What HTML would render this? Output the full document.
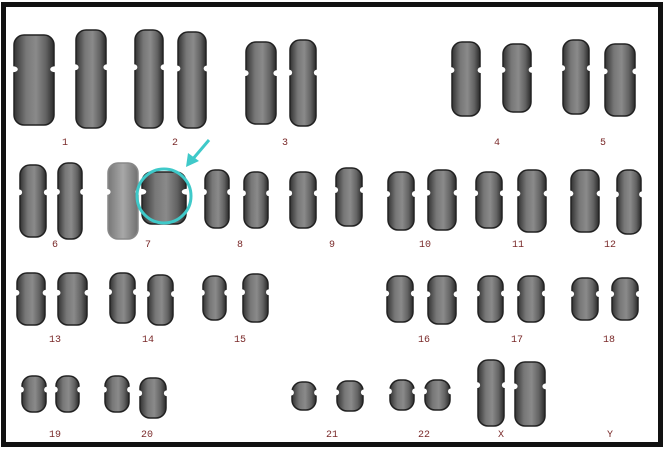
<!DOCTYPE html>
<html><head><meta charset="utf-8"><style>
html,body{margin:0;padding:0;background:#fff;}
svg{display:block;}
.lbl{font-family:"Liberation Mono",monospace;font-size:10px;fill:#7a2a2a;text-anchor:middle;}
</style></head><body>
<svg width="666" height="449" viewBox="0 0 666 449">
<defs>
<linearGradient id="g" x1="0" x2="1" y1="0" y2="0">
<stop offset="0" stop-color="#333"/><stop offset="0.3" stop-color="#777"/><stop offset="0.55" stop-color="#8a8a8a"/><stop offset="0.8" stop-color="#626262"/><stop offset="1" stop-color="#2a2a2a"/>
</linearGradient>
<linearGradient id="gl" x1="0" x2="1"><stop offset="0" stop-color="#777"/><stop offset="0.5" stop-color="#a8a8a8"/><stop offset="1" stop-color="#707070"/></linearGradient>
</defs>
<rect x="0" y="0" width="666" height="449" fill="#fff"/>
<rect x="3.5" y="4.5" width="657" height="440" fill="none" stroke="#111" stroke-width="5"/>
<g id="chroms"></g>
<g id="labels"></g>
<circle cx="164" cy="196" r="27" fill="none" stroke="#3fc9c9" stroke-width="3"/>
<g>
<line x1="209" y1="140" x2="192" y2="160" stroke="#3fc9c9" stroke-width="3"/>
<polygon points="186,167 188,153 199,161" fill="#3fc9c9"/>
</g>
</svg>
<script>
const pairLabels=["1","2","3","4","5","6","7","8","9","10","11","12","13","14","15","16","17","18","19","20","21","22","X","Y"];
const labelX=[65,175,285,497,603,55,148,240,332,425,518,610,55,148,240,424,517,609,55,147,332,424,501,610];
const labelY=[145,145,145,145,145,247,247,247,247,247,247,247,342,342,342,342,342,342,437,437,437,437,437,437];
// chromosome boxes: x, y, w, h
const chromBoxes=[
[14,35,40,90],[76,30,30,98],[135,30,28,98],[178,32,28,96],[246,42,30,82],[290,40,26,86],
[452,42,28,74],[503,44,28,68],[563,40,26,74],[605,44,30,72],
[20,165,26,72],[58,163,24,76],[108,163,30,76],[142,172,44,52],[205,170,24,58],[244,172,24,56],
[290,172,26,56],[336,168,26,58],[388,172,26,58],[428,170,28,60],[476,172,26,56],[518,170,28,62],
[571,170,28,62],[617,170,24,64],
[17,273,28,52],[58,273,29,52],[110,273,25,50],[148,275,25,50],[203,276,23,44],[243,274,25,48],
[387,276,26,46],[428,276,28,48],[478,276,25,46],[518,276,26,46],[572,278,26,42],[612,278,26,42],
[22,376,24,36],[56,376,23,36],[105,376,24,36],[140,378,26,40],[292,382,24,28],[337,381,26,30],
[390,380,24,30],[425,380,25,30],[478,360,26,66],[515,362,30,64]
];
const ns="http://www.w3.org/2000/svg";
const cg=document.getElementById('chroms');
chromBoxes.forEach((b,i)=>{
  const [x,y,w,h]=b;
  const g=document.createElementNS(ns,'g');
  
  
  const light=(i===12);
  const r=document.createElementNS(ns,'rect');
  r.setAttribute('x',x);r.setAttribute('y',y);r.setAttribute('width',w);r.setAttribute('height',h);
  r.setAttribute('rx',Math.min(w/2.2,10));
  r.setAttribute('fill',light?'url(#gl)':'url(#g)');
  r.setAttribute('stroke',light?'#888':'#222');r.setAttribute('stroke-width','1.5');
  g.appendChild(r);
  const cy=y+h*0.38;
  [x-1,x+w+1].forEach(px=>{
    const c=document.createElementNS(ns,'ellipse');
    c.setAttribute('cx',px);c.setAttribute('cy',cy);c.setAttribute('rx',w*0.12);c.setAttribute('ry',3);
    c.setAttribute('fill','#fff');g.appendChild(c);
  });
  cg.appendChild(g);
});
const lg=document.getElementById('labels');
pairLabels.forEach((t,i)=>{
  const e=document.createElementNS(ns,'text');
  e.setAttribute('x',labelX[i]);e.setAttribute('y',labelY[i]);
  e.setAttribute('class','lbl');e.textContent=t;
  
  
  lg.appendChild(e);
});
</script>
</body></html>
